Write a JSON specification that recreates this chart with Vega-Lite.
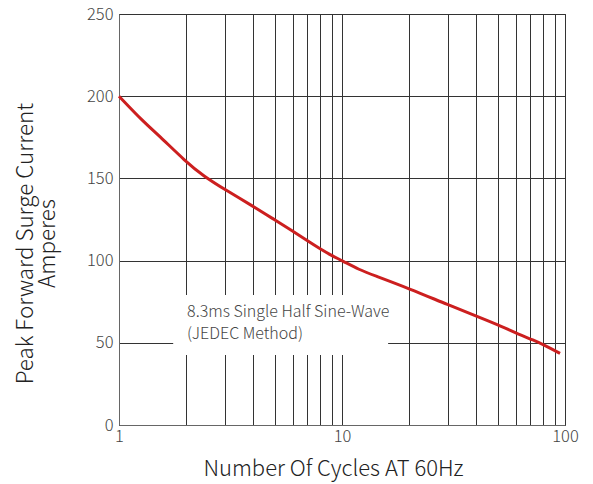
{
  "$schema": "https://vega.github.io/schema/vega-lite/v6.json",
  "width": 446,
  "height": 411,
  "autosize": {"type": "none"},
  "padding": {"left": 119, "top": 14, "right": 28, "bottom": 59},
  "background": "white",
  "config": {
    "font": "Noto Sans CJK SC",
    "view": {"stroke": "#333", "strokeWidth": 1}
  },
  "datasets": {
    "curve": [
      {"x": 1, "y": 200},
      {"x": 1.285, "y": 184.5},
      {"x": 1.5, "y": 176.5},
      {"x": 2, "y": 160},
      {"x": 2.39, "y": 151.5},
      {"x": 3, "y": 143},
      {"x": 4, "y": 133},
      {"x": 5, "y": 124.7},
      {"x": 6, "y": 118},
      {"x": 7, "y": 112},
      {"x": 8, "y": 107},
      {"x": 9, "y": 103},
      {"x": 10, "y": 100},
      {"x": 12, "y": 94.3},
      {"x": 13.8, "y": 91.2},
      {"x": 20, "y": 83},
      {"x": 30, "y": 73},
      {"x": 42.3, "y": 65},
      {"x": 52, "y": 60},
      {"x": 61.7, "y": 55.3},
      {"x": 72, "y": 51.7},
      {"x": 82, "y": 48.2},
      {"x": 95, "y": 43.6}
    ],
    "box": [{"x": 1.75, "xe": 16.1, "y": 42.6, "ye": 79}],
    "note": [
      {"x": 2.02, "y": 65.9, "label": "8.3ms Single Half Sine-Wave"},
      {"x": 2.02, "y": 52.5, "label": "(JEDEC Method)"}
    ]
  },
  "layer": [
    {
      "data": {"name": "box"},
      "mark": {"type": "rect", "fill": "white", "stroke": null},
      "encoding": {
        "x": {
          "field": "x",
          "type": "quantitative",
          "scale": {"type": "log", "domain": [1, 100], "nice": false},
          "axis": {
            "title": "Number Of Cycles AT 60Hz",
            "values": [1, 2, 3, 4, 5, 6, 7, 8, 9, 10, 20, 30, 40, 50, 60, 70, 80, 90, 100],
            "labelExpr": "indexof([1, 10, 100], datum.value) >= 0 ? format(datum.value, 'd') : ''",
            "grid": true,
            "gridColor": "#333",
            "gridOpacity": 1,
            "gridWidth": 1,
            "ticks": false,
            "domainColor": "#666",
            "labelFlush": false,
            "labelFontSize": 16.5,
            "labelColor": "#444",
            "labelPadding": 3,
            "labelFontWeight": 300,
            "titleFontSize": 22,
            "titleFontWeight": 300,
            "titleColor": "#222",
            "titleX": 214,
            "titleY": 50,
            "titleAlign": "center",
            "titleBaseline": "alphabetic"
          }
        },
        "x2": {"field": "xe"},
        "y": {
          "field": "y",
          "type": "quantitative",
          "scale": {"domain": [0, 250], "nice": false},
          "axis": {
            "title": ["Peak Forward Surge Current", "Amperes"],
            "values": [0, 50, 100, 150, 200, 250],
            "grid": true,
            "gridColor": "#333",
            "gridOpacity": 1,
            "gridWidth": 1,
            "ticks": false,
            "domainColor": "#666",
            "labelFontSize": 16.5,
            "labelColor": "#444",
            "labelPadding": 6,
            "labelFontWeight": 300,
            "titleFontSize": 22.4,
            "titleFontWeight": 300,
            "titleColor": "#222",
            "titleLineHeight": 22,
            "titleAngle": -90,
            "titleX": -94,
            "titleY": 229,
            "titleAlign": "center",
            "titleBaseline": "middle"
          }
        },
        "y2": {"field": "ye"}
      }
    },
    {
      "data": {"name": "curve"},
      "mark": {"type": "line", "color": "#cc1f1f", "strokeWidth": 3, "interpolate": "basis"},
      "encoding": {
        "x": {"field": "x", "type": "quantitative"},
        "y": {"field": "y", "type": "quantitative"}
      }
    },
    {
      "data": {"name": "note"},
      "mark": {"type": "text", "align": "left", "baseline": "alphabetic", "fontSize": 16, "color": "#444", "fontWeight": 300},
      "encoding": {
        "x": {"field": "x", "type": "quantitative"},
        "y": {"field": "y", "type": "quantitative"},
        "text": {"field": "label"}
      }
    }
  ]
}
